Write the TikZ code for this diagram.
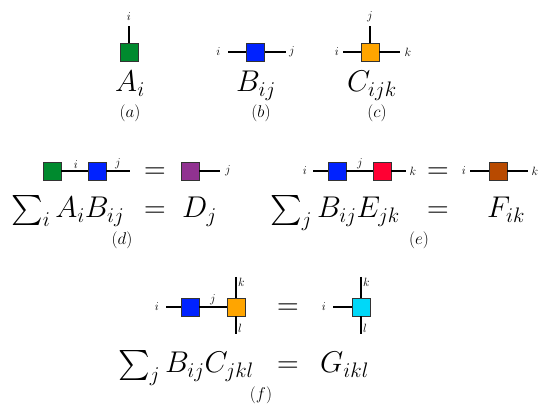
\RequirePackage{fix-cm}
\documentclass[tikz,border=0pt]{standalone}
\usepackage{amsmath,amssymb}
\usetikzlibrary{positioning}
\definecolor{tgreen}{RGB}{0,138,46}
\definecolor{tblue}{RGB}{0,34,255}
\definecolor{torange}{RGB}{255,165,0}
\definecolor{tred}{RGB}{255,0,51}
\definecolor{tpurple}{RGB}{145,50,145}
\definecolor{tbrown}{RGB}{184,74,0}
\definecolor{tcyan}{RGB}{0,216,248}
\tikzset{tensor/.style={draw=black!80,line width=0.8pt,minimum size=18pt,inner sep=0pt},leg/.style={line width=1.4pt},idx/.style={inner sep=0pt,font=\fontsize{12}{14}\selectfont},formula/.style={inner sep=0pt,anchor=base,font=\fontsize{30}{36}\selectfont},caption/.style={inner sep=0pt,font=\fontsize{17}{20}\selectfont}}

\begin{document}
\begin{tikzpicture}[x=1pt,y=-1pt]
\useasboundingbox (0,0) rectangle (539,411);
% (a) vector
\node[tensor,fill=tgreen] (A) at (129,52) {};
\coordinate (Aup) at (129,26);
\draw[leg] (A) -- (Aup);
\node[idx] (ai) at (129,17) {$i$};
\node[formula] (fa) at (130,92) {$A_i$};
\node[caption] (ca) at (130,113) {$(a)$};
% (b) matrix
\node[tensor,fill=tblue] (B) at (255.5,52) {};
\coordinate (Bl) at (228,52);
\coordinate (Br) at (286,52);
\draw[leg] (Bl) -- (B) -- (Br);
\node[idx] (bi) at (218.5,52) {$i$};
\node[idx] (bj) at (292,52) {$j$};
\node[formula] (fb) at (256,92) {$B_{ij}$};
\node[caption] (cb) at (261,113) {$(b)$};
% (c) order-3 tensor
\node[tensor,fill=torange] (C) at (370,52) {};
\coordinate (Cl) at (343,52);
\coordinate (Cr) at (400,52);
\coordinate (Cup) at (370,26);
\draw[leg] (Cl) -- (C) -- (Cr);
\draw[leg] (C) -- (Cup);
\node[idx] (ci) at (337,52) {$i$};
\node[idx] (ck) at (408,52) {$k$};
\node[idx] (cj) at (370,17) {$j$};
\node[formula] (fc) at (372,92) {$C_{ijk}$};
\node[caption] (cc) at (377,113) {$(c)$};
% (d) vector times matrix
\node[tensor,fill=tgreen] (A2) at (52,171) {};
\node[tensor,fill=tblue] (B2) at (97,171) {};
\coordinate (B2r) at (130,171);
\draw[leg] (A2) -- (B2) -- (B2r);
\node[idx,anchor=south] (di) at (76,169) {$i$};
\node[idx,anchor=south] (dj) at (118,169) {$j$};
\node[formula] (deq) at (155,179) {$=$};
\node[tensor,fill=tpurple] (D) at (190,171) {};
\coordinate (Dr) at (220,171);
\draw[leg] (D) -- (Dr);
\node[idx] (dj2) at (228,171) {$j$};
\node[formula,anchor=base west] (fdl) at (11,218) {$\sum_i A_iB_{ij}$};
\node[formula] (fdeq) at (155,218) {$=$};
\node[formula,anchor=base west] (fdr) at (182,218) {$D_j$};
\node[caption] (cd) at (122,240) {$(d)$};
% (e) matrix times matrix
\node[tensor,fill=tblue] (B3) at (337,171) {};
\node[tensor,fill=tred] (E) at (382,171) {};
\coordinate (B3l) at (313,171);
\coordinate (Er) at (406,171);
\draw[leg] (B3l) -- (B3) -- (E) -- (Er);
\node[idx] (ei) at (305,171) {$i$};
\node[idx,anchor=south] (ej) at (360,169) {$j$};
\node[idx] (ek) at (413,171) {$k$};
\node[formula] (eeq) at (438,179) {$=$};
\node[tensor,fill=tbrown] (F) at (498,171) {};
\coordinate (Fl) at (470,171);
\coordinate (Fr) at (528,171);
\draw[leg] (Fl) -- (F) -- (Fr);
\node[idx] (fi) at (464,171) {$i$};
\node[idx] (fk) at (535,171) {$k$};
\node[formula,anchor=base west] (fel) at (270,218) {$\sum_j B_{ij}E_{jk}$};
\node[formula] (feeq) at (438,218) {$=$};
\node[formula,anchor=base west] (fer) at (487,218) {$F_{ik}$};
\node[caption] (ce) at (419,240) {$(e)$};
% (f) matrix times order-3 tensor
\node[tensor,fill=tblue] (B4) at (190,307) {};
\node[tensor,fill=torange] (C2) at (236,307) {};
\coordinate (B4l) at (166,307);
\coordinate (C2up) at (236,277);
\coordinate (C2dn) at (236,334);
\draw[leg] (B4l) -- (B4) -- (C2);
\draw[leg] (C2up) -- (C2) -- (C2dn);
\node[idx] (gi) at (157,307) {$i$};
\node[idx,anchor=south] (gj) at (213,305) {$j$};
\node[idx,anchor=west] (gk) at (238,282) {$k$};
\node[idx,anchor=west] (gl) at (238,328) {$l$};
\node[formula] (geq) at (288,315) {$=$};
\node[tensor,fill=tcyan] (G) at (361,307) {};
\coordinate (Gl) at (333,307);
\coordinate (Gup) at (361,277);
\coordinate (Gdn) at (361,334);
\draw[leg] (Gl) -- (G);
\draw[leg] (Gup) -- (G) -- (Gdn);
\node[idx] (hi) at (324,307) {$i$};
\node[idx,anchor=west] (hk) at (363,282) {$k$};
\node[idx,anchor=west] (hl) at (363,328) {$l$};
\node[formula,anchor=base west] (ffl) at (118,373) {$\sum_j B_{ij}C_{jkl}$};
\node[formula] (ffeq) at (288,373) {$=$};
\node[formula,anchor=base west] (ffr) at (320,373) {$G_{ikl}$};
\node[caption] (cf) at (261,395) {$(f)$};
\end{tikzpicture}
\end{document}
